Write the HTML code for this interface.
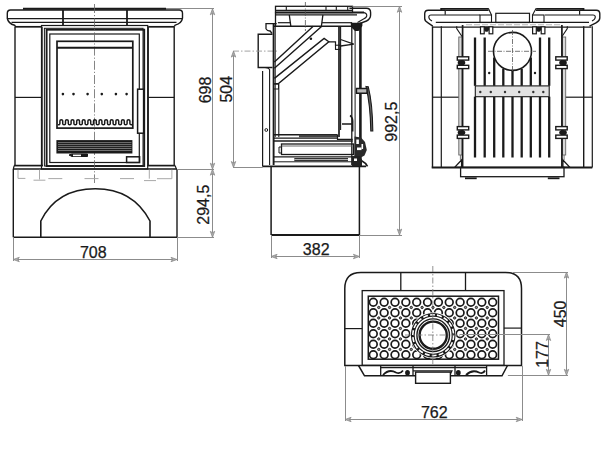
<!DOCTYPE html>
<html><head><meta charset="utf-8"><style>
html,body{margin:0;padding:0;background:#fff;width:607px;height:450px;overflow:hidden}
svg{display:block;font-family:"Liberation Sans",sans-serif}
</style></head><body>
<svg width="607" height="450" viewBox="0 0 607 450" stroke-linecap="butt">
<line x1="23" y1="8.8" x2="166" y2="8.8" stroke="#1a1a1a" stroke-width="2" />
<path d="M15.5,26.7 L14.6,25.2 Q8.3,23.6 7.3,18.5 V13.2 Q7.3,10 10.5,10 H179.3 Q182.5,10 182.5,13.2 V18.2 Q181.7,23.4 175.2,25.2 L174.2,26.7" stroke="#1a1a1a" stroke-width="1.4" fill="none" />
<line x1="7.2" y1="18.5" x2="182.5" y2="18.5" stroke="#1a1a1a" stroke-width="1.25" />
<line x1="11.5" y1="22.4" x2="176.5" y2="22.4" stroke="#1a1a1a" stroke-width="1.3" />
<line x1="63" y1="10" x2="63" y2="25.5" stroke="#1a1a1a" stroke-width="1.8" />
<line x1="127" y1="10" x2="127" y2="25.5" stroke="#1a1a1a" stroke-width="1.8" />
<line x1="15" y1="26.8" x2="42" y2="26.8" stroke="#1a1a1a" stroke-width="1.7" />
<line x1="15" y1="26.7" x2="15" y2="165.4" stroke="#1a1a1a" stroke-width="1.4" />
<line x1="42" y1="26.7" x2="42" y2="165.4" stroke="#1a1a1a" stroke-width="1.4" />
<line x1="15" y1="97.4" x2="42" y2="97.4" stroke="#1a1a1a" stroke-width="1.2" />
<line x1="14" y1="165.6" x2="43" y2="165.6" stroke="#1a1a1a" stroke-width="1.7" />
<line x1="148.2" y1="26.8" x2="174.2" y2="26.8" stroke="#1a1a1a" stroke-width="1.7" />
<line x1="148.2" y1="26.7" x2="148.2" y2="165.4" stroke="#1a1a1a" stroke-width="1.4" />
<line x1="174.2" y1="26.7" x2="174.2" y2="165.4" stroke="#1a1a1a" stroke-width="1.4" />
<line x1="148.2" y1="97.4" x2="174.2" y2="97.4" stroke="#1a1a1a" stroke-width="1.2" />
<line x1="147.2" y1="165.6" x2="175.2" y2="165.6" stroke="#1a1a1a" stroke-width="1.7" />
<path d="M14.2,165.6 L13.3,169 M175.2,165.6 L176.3,169" stroke="#1a1a1a" stroke-width="1.2" fill="none" />
<rect x="41.5" y="25.5" width="106.2" height="143.5" stroke="#1a1a1a" stroke-width="1.2" fill="none" />
<rect x="44.4" y="28.3" width="98.6" height="137.7" stroke="#1a1a1a" stroke-width="1.0" fill="none" />
<rect x="46.6" y="29.7" width="97.6" height="136.3" stroke="#1a1a1a" stroke-width="1.9" fill="none" />
<rect x="49.8" y="34" width="89.5" height="128.5" stroke="#1a1a1a" stroke-width="1.2" fill="none" />
<line x1="94.5" y1="4" x2="94.5" y2="183" stroke="#666" stroke-width="0.8" stroke-dasharray="9,2,1.2,2"/>
<rect x="57" y="41.3" width="75.8" height="86.8" stroke="#1a1a1a" stroke-width="1.7" fill="none" />
<line x1="57" y1="47.8" x2="132.8" y2="47.8" stroke="#1a1a1a" stroke-width="2" />
<circle cx="62.9" cy="94.1" r="1.3" fill="#1a1a1a"/>
<circle cx="73.5" cy="94.1" r="1.3" fill="#1a1a1a"/>
<circle cx="87.6" cy="94.1" r="1.3" fill="#1a1a1a"/>
<circle cx="101.8" cy="94.1" r="1.3" fill="#1a1a1a"/>
<circle cx="115.9" cy="94.1" r="1.3" fill="#1a1a1a"/>
<circle cx="126.6" cy="94.1" r="1.3" fill="#1a1a1a"/>
<clipPath id="gl"><rect x="57.8" y="110" width="74.2" height="17.5"/></clipPath>
<path d="M51.50,123.4 L54.30,123.4 L54.30,121.1 A1.400,1.400 0 0 1 57.10,121.1 L57.10,123.4 A1.400,1.400 0 0 0 59.90,123.4 L59.90,123.4 L59.90,121.1 A1.400,1.400 0 0 1 62.70,121.1 L62.70,123.4 A1.400,1.400 0 0 0 65.50,123.4 L65.50,123.4 L65.50,121.1 A1.400,1.400 0 0 1 68.30,121.1 L68.30,123.4 A1.400,1.400 0 0 0 71.10,123.4 L71.10,123.4 L71.10,121.1 A1.400,1.400 0 0 1 73.90,121.1 L73.90,123.4 A1.400,1.400 0 0 0 76.70,123.4 L76.70,123.4 L76.70,121.1 A1.400,1.400 0 0 1 79.50,121.1 L79.50,123.4 A1.400,1.400 0 0 0 82.30,123.4 L82.30,123.4 L82.30,121.1 A1.400,1.400 0 0 1 85.10,121.1 L85.10,123.4 A1.400,1.400 0 0 0 87.90,123.4 L87.90,123.4 L87.90,121.1 A1.400,1.400 0 0 1 90.70,121.1 L90.70,123.4 A1.400,1.400 0 0 0 93.50,123.4 L93.50,123.4 L93.50,121.1 A1.400,1.400 0 0 1 96.30,121.1 L96.30,123.4 A1.400,1.400 0 0 0 99.10,123.4 L99.10,123.4 L99.10,121.1 A1.400,1.400 0 0 1 101.90,121.1 L101.90,123.4 A1.400,1.400 0 0 0 104.70,123.4 L104.70,123.4 L104.70,121.1 A1.400,1.400 0 0 1 107.50,121.1 L107.50,123.4 A1.400,1.400 0 0 0 110.30,123.4 L110.30,123.4 L110.30,121.1 A1.400,1.400 0 0 1 113.10,121.1 L113.10,123.4 A1.400,1.400 0 0 0 115.90,123.4 L115.90,123.4 L115.90,121.1 A1.400,1.400 0 0 1 118.70,121.1 L118.70,123.4 A1.400,1.400 0 0 0 121.50,123.4 L121.50,123.4 L121.50,121.1 A1.400,1.400 0 0 1 124.30,121.1 L124.30,123.4 A1.400,1.400 0 0 0 127.10,123.4 L127.10,123.4 L127.10,121.1 A1.400,1.400 0 0 1 129.90,121.1 L129.90,123.4 A1.400,1.400 0 0 0 132.70,123.4 L132.70,123.4 L132.70,121.1 A1.400,1.400 0 0 1 135.50,121.1 L135.50,123.4 A1.400,1.400 0 0 0 138.30,123.4" stroke="#1a1a1a" stroke-width="1.5" fill="none" clip-path="url(#gl)"/>
<rect x="137.6" y="89.2" width="6" height="44" stroke="#1a1a1a" stroke-width="1.5" fill="#fff" />
<rect x="56.4" y="140.1" width="76" height="13.4" stroke="#1a1a1a" stroke-width="0" fill="#1a1a1a" />
<line x1="58" y1="142.6" x2="131.5" y2="142.6" stroke="#b0b0b0" stroke-width="0.6" />
<line x1="58" y1="144.6" x2="131.5" y2="144.6" stroke="#b0b0b0" stroke-width="0.6" />
<line x1="58" y1="146.6" x2="131.5" y2="146.6" stroke="#b0b0b0" stroke-width="0.6" />
<line x1="58" y1="148.5" x2="131.5" y2="148.5" stroke="#b0b0b0" stroke-width="0.6" />
<line x1="58" y1="150.5" x2="131.5" y2="150.5" stroke="#b0b0b0" stroke-width="0.6" />
<path d="M69,155 L72,154 L87.5,154 L87.5,156.5 L72,156.5 Z" stroke="#1a1a1a" stroke-width="1" fill="#1a1a1a" />
<rect x="73" y="154.6" width="8" height="1.6" fill="#fff"/>
<rect x="126.6" y="156.8" width="13" height="5.7" stroke="#1a1a1a" stroke-width="1.5" fill="none" />
<line x1="13.3" y1="169.1" x2="177" y2="169.1" stroke="#1a1a1a" stroke-width="1.5" />
<line x1="13.3" y1="169" x2="13.3" y2="237.3" stroke="#1a1a1a" stroke-width="1.4" />
<line x1="177" y1="169" x2="177" y2="237.3" stroke="#1a1a1a" stroke-width="1.4" />
<line x1="13.3" y1="237.3" x2="177" y2="237.3" stroke="#1a1a1a" stroke-width="1.6" />
<path d="M40.8,237.3 V221 C52,198 72,188.7 95.3,188.7 C118,188.7 138,198 150,221 V237.3" stroke="#1a1a1a" stroke-width="1.6" fill="none" />
<path d="M18,169.8 V178.4 H25.4" stroke="#a8a8a8" stroke-width="1" fill="none" />
<path d="M39.5,169.8 V179.5 M33.5,180.2 H45.4" stroke="#a8a8a8" stroke-width="1" fill="none" />
<line x1="48.3" y1="178.6" x2="62.3" y2="178.6" stroke="#a8a8a8" stroke-width="1" />
<line x1="84.5" y1="178.6" x2="98.5" y2="178.6" stroke="#a8a8a8" stroke-width="1" />
<line x1="120" y1="178.6" x2="134" y2="178.6" stroke="#a8a8a8" stroke-width="1" />
<path d="M149.3,169.8 V178.7 M144,180.6 H156" stroke="#a8a8a8" stroke-width="1" fill="none" />
<path d="M171.9,169.8 V178.7 H157" stroke="#a8a8a8" stroke-width="1" fill="none" />
<line x1="166" y1="8.5" x2="214" y2="8.5" stroke="#8c8c8c" stroke-width="1" />
<line x1="212.5" y1="8.6" x2="212.5" y2="237.3" stroke="#8c8c8c" stroke-width="1" />
<line x1="177" y1="169.5" x2="214" y2="169.5" stroke="#8c8c8c" stroke-width="1" />
<line x1="177" y1="237.5" x2="214" y2="237.5" stroke="#8c8c8c" stroke-width="1" />
<path d="M210.3,14.8 L212.5,8.8 L214.7,14.8 L212.5,13.3 Z" stroke="#8c8c8c" stroke-width="0.8" fill="#aaa" />
<path d="M210.3,163.2 L212.5,169.2 L214.7,163.2 L212.5,164.7 Z" stroke="#8c8c8c" stroke-width="0.8" fill="#aaa" />
<path d="M210.3,175.2 L212.5,169.2 L214.7,175.2 L212.5,173.7 Z" stroke="#8c8c8c" stroke-width="0.8" fill="#aaa" />
<path d="M210.3,231.3 L212.5,237.3 L214.7,231.3 L212.5,232.8 Z" stroke="#8c8c8c" stroke-width="0.8" fill="#aaa" />
<text x="0" y="0" transform="translate(205,90) rotate(-90)" text-anchor="middle" dominant-baseline="central" font-size="16" fill="#1a1a1a" stroke="#1a1a1a" stroke-width="0.25">698</text>
<text x="0" y="0" transform="translate(203,204.7) rotate(-90)" text-anchor="middle" dominant-baseline="central" font-size="16" fill="#1a1a1a" stroke="#1a1a1a" stroke-width="0.25">294,5</text>
<line x1="13.5" y1="237.3" x2="13.5" y2="261" stroke="#8c8c8c" stroke-width="1" />
<line x1="177.5" y1="237.3" x2="177.5" y2="261" stroke="#8c8c8c" stroke-width="1" />
<line x1="13.3" y1="259.5" x2="177" y2="259.5" stroke="#8c8c8c" stroke-width="1" />
<path d="M19.3,257.3 L13.3,259.5 L19.3,261.7 L17.8,259.5 Z" stroke="#8c8c8c" stroke-width="0.8" fill="#aaa" />
<path d="M171,257.3 L177,259.5 L171,261.7 L172.5,259.5 Z" stroke="#8c8c8c" stroke-width="0.8" fill="#aaa" />
<text x="93.3" y="252" text-anchor="middle" dominant-baseline="central" font-size="16" fill="#1a1a1a" stroke="#1a1a1a" stroke-width="0.25">708</text>

<rect x="275.5" y="6.3" width="77" height="6.2" stroke="#1a1a1a" stroke-width="1.3" fill="none" />
<line x1="275.5" y1="10.4" x2="352.5" y2="10.4" stroke="#1a1a1a" stroke-width="1.1" />
<line x1="286.3" y1="6.3" x2="286.3" y2="10.4" stroke="#1a1a1a" stroke-width="1.1" />
<line x1="326" y1="6.3" x2="326" y2="10.4" stroke="#1a1a1a" stroke-width="1.1" />
<line x1="336.3" y1="6.3" x2="336.3" y2="10.4" stroke="#1a1a1a" stroke-width="1.1" />
<line x1="347.7" y1="6.3" x2="347.7" y2="10.4" stroke="#1a1a1a" stroke-width="1.1" />
<line x1="275.5" y1="12.6" x2="364" y2="12.6" stroke="#1a1a1a" stroke-width="2" />
<path d="M349.4,8.3 H366.4 Q370.6,8.3 370.6,12.5 V15 Q370.6,19 366.5,21 L359.4,23.6" stroke="#1a1a1a" stroke-width="1.4" fill="none" />
<path d="M364,12.6 Q366.8,13.2 366.8,15.5 Q366.8,17.5 363.5,19 L357.5,22.5" stroke="#1a1a1a" stroke-width="1.1" fill="none" />
<line x1="275.5" y1="14.8" x2="357" y2="14.8" stroke="#1a1a1a" stroke-width="1.2" />
<line x1="273" y1="26.2" x2="358" y2="26.2" stroke="#1a1a1a" stroke-width="1.6" />
<line x1="275.5" y1="12.6" x2="275.5" y2="26.2" stroke="#1a1a1a" stroke-width="1.3" />
<path d="M289.3,14.8 L290.8,26.2 M322.9,14.8 L321.4,26.2" stroke="#1a1a1a" stroke-width="1.3" fill="none" />
<path d="M277.9,22.7 H290.3" stroke="#1a1a1a" stroke-width="1.2" fill="none" />
<path d="M322,22.7 H352" stroke="#1a1a1a" stroke-width="1.2" fill="none" />
<line x1="305.4" y1="2" x2="305.4" y2="31" stroke="#555" stroke-width="0.8" stroke-dasharray="5,1.5,1,1.5"/>
<path d="M266,29 V23.6 H276.7 M266,29 Q267.5,31.2 270.2,31 L272,33.5" stroke="#1a1a1a" stroke-width="1.3" fill="none" />
<path d="M272.5,34.2 H258.2 V67.5 H272.5" stroke="#1a1a1a" stroke-width="1.4" fill="none" />
<line x1="233" y1="51.1" x2="278" y2="51.1" stroke="#999" stroke-width="0.9" stroke-dasharray="6,2,1.5,2"/>
<line x1="262.6" y1="71" x2="262.6" y2="166.4" stroke="#1a1a1a" stroke-width="1.2" />
<path d="M265,67.5 Q268.5,67.5 269.6,69.5 V165" stroke="#1a1a1a" stroke-width="1.1" fill="none" />
<line x1="273.6" y1="23.6" x2="273.6" y2="165" stroke="#1a1a1a" stroke-width="1.9" />
<line x1="275.3" y1="26.2" x2="275.3" y2="137" stroke="#1a1a1a" stroke-width="0.9" />
<line x1="278.8" y1="84" x2="278.8" y2="137" stroke="#1a1a1a" stroke-width="1.1" />
<path d="M313.2,26.2 L274.4,62 M321.8,26.2 L274.4,68.2" stroke="#1a1a1a" stroke-width="1.4" fill="none" />
<path d="M274.4,78.4 L324.1,38.4 L328.8,41.8 L278.2,83.8 L274.4,83.8" stroke="#1a1a1a" stroke-width="1.4" fill="none" />
<path d="M328.8,41.8 H335.5 V45.7" stroke="#1a1a1a" stroke-width="1.2" fill="none" />
<circle cx="310.9" cy="38.7" r="1.3" fill="#1a1a1a"/>
<rect x="273.5" y="84" width="5" height="5" stroke="#1a1a1a" stroke-width="1.0" fill="none" />
<line x1="339" y1="26.2" x2="339" y2="137" stroke="#1a1a1a" stroke-width="1.7" />
<line x1="340.6" y1="26.2" x2="340.6" y2="130" stroke="#1a1a1a" stroke-width="1.1" />
<path d="M340.6,39.5 L353.8,44.1 L340.6,46" stroke="#1a1a1a" stroke-width="1.3" fill="none" />
<path d="M350.7,22.7 H362.4 V26 L358.5,31 H355 L351,27 Z" fill="#1a1a1a"/>
<rect x="335.5" y="45.2" width="5" height="4.2" stroke="#1a1a1a" stroke-width="1.1" fill="none" />
<line x1="351.8" y1="22.7" x2="351.8" y2="165" stroke="#1a1a1a" stroke-width="1.3" />
<line x1="355.1" y1="26" x2="355.1" y2="165" stroke="#1a1a1a" stroke-width="1.0" />
<line x1="360.4" y1="22.7" x2="360.4" y2="165" stroke="#1a1a1a" stroke-width="2.6" />
<path d="M342,124 H352.7 M350,115.5 Q352.5,117 352.7,121 V131.4" stroke="#1a1a1a" stroke-width="1.5" fill="none" />
<path d="M366,86.5 L368.3,86.8 Q372.6,104 372.8,131 L370.8,131 Q370.3,104 366,86.5 Z" stroke="#1a1a1a" stroke-width="1.1" fill="#666" />
<path d="M356.5,88.5 H367 V93.2 H356.5 Z" stroke="#1a1a1a" stroke-width="1.4" fill="#bbb" />
<line x1="273.6" y1="134.7" x2="337.5" y2="134.7" stroke="#1a1a1a" stroke-width="1.6" />
<rect x="299" y="134.7" width="38" height="2.6" stroke="#1a1a1a" stroke-width="0" fill="#444" />
<path d="M273.6,138.2 H337 M337.5,134.7 V139.3 H352.7" stroke="#1a1a1a" stroke-width="1.2" fill="none" />
<line x1="273.6" y1="141" x2="352.7" y2="141" stroke="#1a1a1a" stroke-width="1.4" />
<rect x="281.5" y="144" width="72" height="10.5" stroke="#1a1a1a" stroke-width="1.3" fill="none" />
<line x1="281.5" y1="146" x2="352" y2="146" stroke="#555" stroke-width="0.9" />
<path d="M281.5,147 H279 V153 H281.5" stroke="#1a1a1a" stroke-width="1.0" fill="none" />
<line x1="273.6" y1="156.8" x2="355" y2="156.8" stroke="#1a1a1a" stroke-width="1.2" />
<rect x="294.3" y="158" width="53.7" height="3.2" stroke="#1a1a1a" stroke-width="0" fill="#333" />
<line x1="294.3" y1="159.5" x2="348" y2="159.5" stroke="#fff" stroke-width="0.6" />
<line x1="273.6" y1="161.8" x2="360" y2="161.8" stroke="#1a1a1a" stroke-width="1.0" />
<line x1="262.6" y1="166.4" x2="366" y2="166.4" stroke="#1a1a1a" stroke-width="1.8" />
<path d="M354.5,136.5 L361,137.5 L365,142 L366.8,150 L364.5,155.5 L360,158 H354.5 Z" fill="#2a2a2a"/>
<rect x="356.3" y="139.5" width="2.6" height="4.5" stroke="#1a1a1a" stroke-width="0" fill="#fff" />
<rect x="357" y="147.5" width="4.5" height="2.6" stroke="#1a1a1a" stroke-width="0" fill="#fff" />
<rect x="361.5" y="144" width="1.6" height="5" stroke="#1a1a1a" stroke-width="0" fill="#fff" />
<path d="M358,158 L362,161 Q366,163 367.5,166.4 M352.7,163 H360" stroke="#1a1a1a" stroke-width="1.6" fill="none" />
<path d="M352,156 H360 L362,160 V166 H352 Z" fill="#222"/>
<rect x="354" y="158.5" width="3" height="2.5" stroke="#1a1a1a" stroke-width="0" fill="#fff" />
<circle cx="266.3" cy="130" r="1.4" fill="none" stroke="#1a1a1a" stroke-width="1"/>
<line x1="271.1" y1="166.4" x2="271.1" y2="235.1" stroke="#1a1a1a" stroke-width="1.5" />
<line x1="359.4" y1="166.4" x2="359.4" y2="235.1" stroke="#1a1a1a" stroke-width="1.5" />
<line x1="271.1" y1="235.1" x2="359.4" y2="235.1" stroke="#1a1a1a" stroke-width="2" />
<line x1="233" y1="167.5" x2="262.8" y2="167.5" stroke="#8c8c8c" stroke-width="1" />
<line x1="233.5" y1="51.1" x2="233.5" y2="167.2" stroke="#8c8c8c" stroke-width="1" />
<path d="M231.3,57.1 L233.5,51.1 L235.7,57.1 L233.5,55.6 Z" stroke="#8c8c8c" stroke-width="0.8" fill="#aaa" />
<path d="M231.3,161.5 L233.5,167.5 L235.7,161.5 L233.5,163.0 Z" stroke="#8c8c8c" stroke-width="0.8" fill="#aaa" />
<text x="0" y="0" transform="translate(226.5,89.2) rotate(-90)" text-anchor="middle" dominant-baseline="central" font-size="16" fill="#1a1a1a" stroke="#1a1a1a" stroke-width="0.25">504</text>
<line x1="352.5" y1="6.5" x2="402" y2="6.5" stroke="#8c8c8c" stroke-width="1" />
<line x1="359.4" y1="235.5" x2="402" y2="235.5" stroke="#8c8c8c" stroke-width="1" />
<line x1="399.5" y1="6.3" x2="399.5" y2="235.1" stroke="#8c8c8c" stroke-width="1" />
<path d="M397.3,12.3 L399.5,6.3 L401.7,12.3 L399.5,10.8 Z" stroke="#8c8c8c" stroke-width="0.8" fill="#aaa" />
<path d="M397.3,229.1 L399.5,235.1 L401.7,229.1 L399.5,230.6 Z" stroke="#8c8c8c" stroke-width="0.8" fill="#aaa" />
<text x="0" y="0" transform="translate(391.2,121.7) rotate(-90)" text-anchor="middle" dominant-baseline="central" font-size="16" fill="#1a1a1a" stroke="#1a1a1a" stroke-width="0.25">992,5</text>
<line x1="271.5" y1="235.1" x2="271.5" y2="258" stroke="#8c8c8c" stroke-width="1" />
<line x1="359.5" y1="235.1" x2="359.5" y2="258" stroke="#8c8c8c" stroke-width="1" />
<line x1="271.1" y1="256.5" x2="359.4" y2="256.5" stroke="#8c8c8c" stroke-width="1" />
<path d="M277.1,254.3 L271.1,256.5 L277.1,258.7 L275.6,256.5 Z" stroke="#8c8c8c" stroke-width="0.8" fill="#aaa" />
<path d="M353.4,254.3 L359.4,256.5 L353.4,258.7 L354.9,256.5 Z" stroke="#8c8c8c" stroke-width="0.8" fill="#aaa" />
<text x="316.2" y="249.6" text-anchor="middle" dominant-baseline="central" font-size="16" fill="#1a1a1a" stroke="#1a1a1a" stroke-width="0.25">382</text>
<path d="M441.2,10.3 V8.9 H488.3 M583.5,10.3 V8.9 H536.2" stroke="#1a1a1a" stroke-width="1.8" fill="none" />
<line x1="445.2" y1="10.3" x2="445.2" y2="14.8" stroke="#1a1a1a" stroke-width="1.2" />
<line x1="445.2" y1="10.4" x2="488.6" y2="10.4" stroke="#1a1a1a" stroke-width="1.1" />
<line x1="536" y1="10.4" x2="579.6" y2="10.4" stroke="#1a1a1a" stroke-width="1.1" />
<line x1="579.6" y1="10.3" x2="579.6" y2="14.8" stroke="#1a1a1a" stroke-width="1.2" />
<path d="M445.2,10.2 H428.2 Q424.7,10.2 424.7,13.8 V18.5 Q424.7,21 428,22.8 L432.8,26.1" stroke="#1a1a1a" stroke-width="1.4" fill="none" />
<path d="M579.6,10.2 H596.3 Q599.8,10.2 599.8,13.8 V18 Q599.8,20.8 596,22.8 L589.5,26.1" stroke="#1a1a1a" stroke-width="1.4" fill="none" />
<path d="M480,15 H431 Q428.8,15 428.8,17 Q428.8,19.5 432,21" stroke="#1a1a1a" stroke-width="1.1" fill="none" />
<path d="M545,15 H593 Q595.3,15 595.3,17 Q595.3,19.5 592,21" stroke="#1a1a1a" stroke-width="1.1" fill="none" />
<rect x="480" y="15" width="11.5" height="7.5" stroke="#1a1a1a" stroke-width="1.1" fill="none" />
<rect x="532.5" y="15" width="11.5" height="7.5" stroke="#1a1a1a" stroke-width="1.1" fill="none" />
<line x1="488.3" y1="8.3" x2="491.5" y2="15" stroke="#1a1a1a" stroke-width="1.1" />
<line x1="536.2" y1="8.3" x2="532.5" y2="15" stroke="#1a1a1a" stroke-width="1.1" />
<rect x="495.8" y="13.3" width="33.7" height="9.2" stroke="#1a1a1a" stroke-width="1.2" fill="none" />
<line x1="435.8" y1="22.3" x2="589" y2="22.3" stroke="#1a1a1a" stroke-width="1.3" />
<line x1="432.8" y1="27.1" x2="591.4" y2="27.1" stroke="#1a1a1a" stroke-width="1.4" />
<line x1="466" y1="24.75" x2="562" y2="24.75" stroke="#b8b8b8" stroke-width="1.0" stroke-dasharray="6,2"/>
<line x1="432.5" y1="26.3" x2="432.5" y2="167.5" stroke="#1a1a1a" stroke-width="1.4" />
<line x1="441.3" y1="26.3" x2="441.3" y2="167.5" stroke="#1a1a1a" stroke-width="1.2" />
<line x1="432.5" y1="97.2" x2="459.2" y2="97.2" stroke="#1a1a1a" stroke-width="1.2" />
<line x1="583.7" y1="26.3" x2="583.7" y2="167.5" stroke="#1a1a1a" stroke-width="1.4" />
<line x1="592.3" y1="26.3" x2="592.3" y2="167.5" stroke="#1a1a1a" stroke-width="1.2" />
<line x1="563.7" y1="97.2" x2="592.3" y2="97.2" stroke="#1a1a1a" stroke-width="1.2" />
<rect x="458.8" y="37" width="3.2" height="118" stroke="#666" stroke-width="0.9" fill="#d8d8d8" />
<line x1="460.4" y1="155" x2="460.4" y2="160" stroke="#666" stroke-width="0.9" />
<line x1="462.6" y1="25" x2="462.6" y2="167.5" stroke="#1a1a1a" stroke-width="1.7" />
<rect x="562.5" y="37" width="3.2" height="118" stroke="#666" stroke-width="0.9" fill="#d8d8d8" />
<line x1="564.1" y1="155" x2="564.1" y2="160" stroke="#666" stroke-width="0.9" />
<line x1="561.9" y1="25" x2="561.9" y2="167.5" stroke="#1a1a1a" stroke-width="1.7" />
<path d="M456.7,26.3 V28.5 L462,36.5 M567.3,26.3 V28.5 L562,36.5" stroke="#1a1a1a" stroke-width="1.1" fill="none" />
<path d="M454.6,167.4 L461.6,160 V167.4 Z M569.9,167.4 L562.9,160 V167.4 Z" stroke="#1a1a1a" stroke-width="1.3" fill="none" />
<rect x="457.3" y="56.800000000000004" width="11.4" height="3.3" stroke="#1a1a1a" stroke-width="1.4" fill="#fff" />
<rect x="457.3" y="65.3" width="11.4" height="3.3" stroke="#1a1a1a" stroke-width="1.4" fill="#fff" />
<ellipse cx="461.5" cy="62.7" rx="3.8" ry="2.6" fill="#1a1a1a"/>
<rect x="457.3" y="126.6" width="11.4" height="3.3" stroke="#1a1a1a" stroke-width="1.4" fill="#fff" />
<rect x="457.3" y="135.1" width="11.4" height="3.3" stroke="#1a1a1a" stroke-width="1.4" fill="#fff" />
<ellipse cx="461.5" cy="132.5" rx="3.8" ry="2.6" fill="#1a1a1a"/>
<rect x="555.8" y="56.800000000000004" width="11.4" height="3.3" stroke="#1a1a1a" stroke-width="1.4" fill="#fff" />
<rect x="555.8" y="65.3" width="11.4" height="3.3" stroke="#1a1a1a" stroke-width="1.4" fill="#fff" />
<ellipse cx="563.0" cy="62.7" rx="3.8" ry="2.6" fill="#1a1a1a"/>
<rect x="555.8" y="126.6" width="11.4" height="3.3" stroke="#1a1a1a" stroke-width="1.4" fill="#fff" />
<rect x="555.8" y="135.1" width="11.4" height="3.3" stroke="#1a1a1a" stroke-width="1.4" fill="#fff" />
<ellipse cx="563.0" cy="132.5" rx="3.8" ry="2.6" fill="#1a1a1a"/>
<rect x="480.5" y="26.8" width="3.7" height="7" stroke="#1a1a1a" stroke-width="1.2" fill="#fff" />
<rect x="489.1" y="26.8" width="3.7" height="7" stroke="#1a1a1a" stroke-width="1.2" fill="#fff" />
<path d="M484.2,26.5 H489.1 V30 L487.5,31.8 H485.5 L484.2,30 Z" fill="#1a1a1a"/>
<rect x="532.6" y="26.8" width="3.7" height="7" stroke="#1a1a1a" stroke-width="1.2" fill="#fff" />
<rect x="541.2" y="26.8" width="3.7" height="7" stroke="#1a1a1a" stroke-width="1.2" fill="#fff" />
<path d="M536.3000000000001,26.5 H541.2 V30 L539.6,31.8 H537.6 L536.3000000000001,30 Z" fill="#1a1a1a"/>
<line x1="475" y1="37.5" x2="475" y2="85.8" stroke="#1a1a1a" stroke-width="2.3" />
<line x1="475" y1="96.7" x2="475" y2="157.5" stroke="#1a1a1a" stroke-width="2.3" />
<line x1="484.7" y1="37.5" x2="484.7" y2="85.8" stroke="#1a1a1a" stroke-width="2.3" />
<line x1="484.7" y1="96.7" x2="484.7" y2="157.5" stroke="#1a1a1a" stroke-width="2.3" />
<line x1="494.2" y1="57.5" x2="494.2" y2="85.8" stroke="#1a1a1a" stroke-width="2.3" />
<line x1="494.2" y1="96.7" x2="494.2" y2="157.5" stroke="#1a1a1a" stroke-width="2.3" />
<line x1="503.3" y1="68.7" x2="503.3" y2="85.8" stroke="#1a1a1a" stroke-width="2.3" />
<line x1="503.3" y1="96.7" x2="503.3" y2="157.5" stroke="#1a1a1a" stroke-width="2.3" />
<line x1="512.5" y1="70.5" x2="512.5" y2="85.8" stroke="#1a1a1a" stroke-width="2.3" />
<line x1="512.5" y1="96.7" x2="512.5" y2="157.5" stroke="#1a1a1a" stroke-width="2.3" />
<line x1="521.7" y1="68.7" x2="521.7" y2="85.8" stroke="#1a1a1a" stroke-width="2.3" />
<line x1="521.7" y1="96.7" x2="521.7" y2="157.5" stroke="#1a1a1a" stroke-width="2.3" />
<line x1="530.8" y1="57.5" x2="530.8" y2="85.8" stroke="#1a1a1a" stroke-width="2.3" />
<line x1="530.8" y1="96.7" x2="530.8" y2="157.5" stroke="#1a1a1a" stroke-width="2.3" />
<line x1="540" y1="37.5" x2="540" y2="85.8" stroke="#1a1a1a" stroke-width="2.3" />
<line x1="540" y1="96.7" x2="540" y2="157.5" stroke="#1a1a1a" stroke-width="2.3" />
<line x1="549.2" y1="37.5" x2="549.2" y2="85.8" stroke="#1a1a1a" stroke-width="2.3" />
<line x1="549.2" y1="96.7" x2="549.2" y2="157.5" stroke="#1a1a1a" stroke-width="2.3" />
<circle cx="512.5" cy="51.4" r="19" stroke="#1a1a1a" stroke-width="1.6" fill="#fff"/>
<line x1="488" y1="51.3" x2="536" y2="51.3" stroke="#555" stroke-width="0.8" stroke-dasharray="5,1.5,1,1.5"/>
<line x1="512.5" y1="30" x2="512.5" y2="72" stroke="#555" stroke-width="0.8" stroke-dasharray="5,1.5,1,1.5"/>
<circle cx="489.2" cy="73" r="1.2" fill="#1a1a1a"/>
<circle cx="535" cy="73" r="1.2" fill="#1a1a1a"/>
<rect x="475.3" y="85.9" width="73.9" height="10.8" stroke="#1a1a1a" stroke-width="1.1" fill="#e2e2e2" />
<circle cx="480.3" cy="92" r="1.2" fill="#333"/>
<circle cx="490.8" cy="92" r="1.2" fill="#333"/>
<circle cx="505" cy="92" r="1.2" fill="#333"/>
<circle cx="519.2" cy="92" r="1.2" fill="#333"/>
<circle cx="533.3" cy="92" r="1.2" fill="#333"/>
<circle cx="543.3" cy="92" r="1.2" fill="#333"/>
<line x1="431.7" y1="167.5" x2="592.3" y2="167.5" stroke="#1a1a1a" stroke-width="1.8" />
<rect x="460.6" y="167.4" width="103.4" height="9.3" stroke="#1a1a1a" stroke-width="1.3" fill="none" />
<line x1="465" y1="178.3" x2="476.7" y2="178.3" stroke="#1a1a1a" stroke-width="1.8" />
<line x1="547.8" y1="178.3" x2="559.5" y2="178.3" stroke="#1a1a1a" stroke-width="1.8" />
<path d="M344.8,365.4 V288.5 Q344.8,272.4 360.8,272.4 H505.5 Q521.5,272.4 521.5,288.5 V365.4 Z" stroke="#1a1a1a" stroke-width="1.5" fill="none" />
<line x1="400.8" y1="272.5" x2="400.8" y2="290.8" stroke="#1a1a1a" stroke-width="1.3" />
<line x1="465.5" y1="272.5" x2="465.5" y2="290.8" stroke="#1a1a1a" stroke-width="1.3" />
<rect x="362.2" y="290.6" width="141.8" height="74.8" stroke="#1a1a1a" stroke-width="1.3" fill="none" />
<line x1="344.8" y1="328.6" x2="362.2" y2="328.6" stroke="#1a1a1a" stroke-width="1.2" />
<line x1="503.9" y1="328.1" x2="521.5" y2="328.1" stroke="#1a1a1a" stroke-width="1.2" />
<rect x="368.3" y="296.2" width="130.2" height="63" stroke="#1a1a1a" stroke-width="1.5" fill="none" />
<circle cx="373.30" cy="302.20" r="3.85" stroke="#1a1a1a" stroke-width="1.7" fill="#fff"/>
<circle cx="373.30" cy="312.70" r="3.85" stroke="#1a1a1a" stroke-width="1.7" fill="#fff"/>
<circle cx="373.30" cy="323.20" r="3.85" stroke="#1a1a1a" stroke-width="1.7" fill="#fff"/>
<circle cx="373.30" cy="333.70" r="3.85" stroke="#1a1a1a" stroke-width="1.7" fill="#fff"/>
<circle cx="373.30" cy="344.20" r="3.85" stroke="#1a1a1a" stroke-width="1.7" fill="#fff"/>
<circle cx="373.30" cy="354.70" r="3.85" stroke="#1a1a1a" stroke-width="1.7" fill="#fff"/>
<circle cx="384.15" cy="302.20" r="3.85" stroke="#1a1a1a" stroke-width="1.7" fill="#fff"/>
<circle cx="384.15" cy="312.70" r="3.85" stroke="#1a1a1a" stroke-width="1.7" fill="#fff"/>
<circle cx="384.15" cy="323.20" r="3.85" stroke="#1a1a1a" stroke-width="1.7" fill="#fff"/>
<circle cx="384.15" cy="333.70" r="3.85" stroke="#1a1a1a" stroke-width="1.7" fill="#fff"/>
<circle cx="384.15" cy="344.20" r="3.85" stroke="#1a1a1a" stroke-width="1.7" fill="#fff"/>
<circle cx="384.15" cy="354.70" r="3.85" stroke="#1a1a1a" stroke-width="1.7" fill="#fff"/>
<circle cx="395.00" cy="302.20" r="3.85" stroke="#1a1a1a" stroke-width="1.7" fill="#fff"/>
<circle cx="395.00" cy="312.70" r="3.85" stroke="#1a1a1a" stroke-width="1.7" fill="#fff"/>
<circle cx="395.00" cy="323.20" r="3.85" stroke="#1a1a1a" stroke-width="1.7" fill="#fff"/>
<circle cx="395.00" cy="333.70" r="3.85" stroke="#1a1a1a" stroke-width="1.7" fill="#fff"/>
<circle cx="395.00" cy="344.20" r="3.85" stroke="#1a1a1a" stroke-width="1.7" fill="#fff"/>
<circle cx="395.00" cy="354.70" r="3.85" stroke="#1a1a1a" stroke-width="1.7" fill="#fff"/>
<circle cx="405.85" cy="302.20" r="3.85" stroke="#1a1a1a" stroke-width="1.7" fill="#fff"/>
<circle cx="405.85" cy="312.70" r="3.85" stroke="#1a1a1a" stroke-width="1.7" fill="#fff"/>
<circle cx="405.85" cy="323.20" r="3.85" stroke="#1a1a1a" stroke-width="1.7" fill="#fff"/>
<circle cx="405.85" cy="333.70" r="3.85" stroke="#1a1a1a" stroke-width="1.7" fill="#fff"/>
<circle cx="405.85" cy="344.20" r="3.85" stroke="#1a1a1a" stroke-width="1.7" fill="#fff"/>
<circle cx="405.85" cy="354.70" r="3.85" stroke="#1a1a1a" stroke-width="1.7" fill="#fff"/>
<circle cx="416.70" cy="302.20" r="3.85" stroke="#1a1a1a" stroke-width="1.7" fill="#fff"/>
<circle cx="416.70" cy="312.70" r="3.85" stroke="#1a1a1a" stroke-width="1.7" fill="#fff"/>
<circle cx="416.70" cy="323.20" r="3.85" stroke="#1a1a1a" stroke-width="1.7" fill="#fff"/>
<circle cx="416.70" cy="333.70" r="3.85" stroke="#1a1a1a" stroke-width="1.7" fill="#fff"/>
<circle cx="416.70" cy="344.20" r="3.85" stroke="#1a1a1a" stroke-width="1.7" fill="#fff"/>
<circle cx="416.70" cy="354.70" r="3.85" stroke="#1a1a1a" stroke-width="1.7" fill="#fff"/>
<circle cx="427.55" cy="302.20" r="3.85" stroke="#1a1a1a" stroke-width="1.7" fill="#fff"/>
<circle cx="427.55" cy="312.70" r="3.85" stroke="#1a1a1a" stroke-width="1.7" fill="#fff"/>
<circle cx="427.55" cy="323.20" r="3.85" stroke="#1a1a1a" stroke-width="1.7" fill="#fff"/>
<circle cx="427.55" cy="333.70" r="3.85" stroke="#1a1a1a" stroke-width="1.7" fill="#fff"/>
<circle cx="427.55" cy="344.20" r="3.85" stroke="#1a1a1a" stroke-width="1.7" fill="#fff"/>
<circle cx="427.55" cy="354.70" r="3.85" stroke="#1a1a1a" stroke-width="1.7" fill="#fff"/>
<circle cx="438.40" cy="302.20" r="3.85" stroke="#1a1a1a" stroke-width="1.7" fill="#fff"/>
<circle cx="438.40" cy="312.70" r="3.85" stroke="#1a1a1a" stroke-width="1.7" fill="#fff"/>
<circle cx="438.40" cy="323.20" r="3.85" stroke="#1a1a1a" stroke-width="1.7" fill="#fff"/>
<circle cx="438.40" cy="333.70" r="3.85" stroke="#1a1a1a" stroke-width="1.7" fill="#fff"/>
<circle cx="438.40" cy="344.20" r="3.85" stroke="#1a1a1a" stroke-width="1.7" fill="#fff"/>
<circle cx="438.40" cy="354.70" r="3.85" stroke="#1a1a1a" stroke-width="1.7" fill="#fff"/>
<circle cx="449.25" cy="302.20" r="3.85" stroke="#1a1a1a" stroke-width="1.7" fill="#fff"/>
<circle cx="449.25" cy="312.70" r="3.85" stroke="#1a1a1a" stroke-width="1.7" fill="#fff"/>
<circle cx="449.25" cy="323.20" r="3.85" stroke="#1a1a1a" stroke-width="1.7" fill="#fff"/>
<circle cx="449.25" cy="333.70" r="3.85" stroke="#1a1a1a" stroke-width="1.7" fill="#fff"/>
<circle cx="449.25" cy="344.20" r="3.85" stroke="#1a1a1a" stroke-width="1.7" fill="#fff"/>
<circle cx="449.25" cy="354.70" r="3.85" stroke="#1a1a1a" stroke-width="1.7" fill="#fff"/>
<circle cx="460.10" cy="302.20" r="3.85" stroke="#1a1a1a" stroke-width="1.7" fill="#fff"/>
<circle cx="460.10" cy="312.70" r="3.85" stroke="#1a1a1a" stroke-width="1.7" fill="#fff"/>
<circle cx="460.10" cy="323.20" r="3.85" stroke="#1a1a1a" stroke-width="1.7" fill="#fff"/>
<circle cx="460.10" cy="333.70" r="3.85" stroke="#1a1a1a" stroke-width="1.7" fill="#fff"/>
<circle cx="460.10" cy="344.20" r="3.85" stroke="#1a1a1a" stroke-width="1.7" fill="#fff"/>
<circle cx="460.10" cy="354.70" r="3.85" stroke="#1a1a1a" stroke-width="1.7" fill="#fff"/>
<circle cx="470.95" cy="302.20" r="3.85" stroke="#1a1a1a" stroke-width="1.7" fill="#fff"/>
<circle cx="470.95" cy="312.70" r="3.85" stroke="#1a1a1a" stroke-width="1.7" fill="#fff"/>
<circle cx="470.95" cy="323.20" r="3.85" stroke="#1a1a1a" stroke-width="1.7" fill="#fff"/>
<circle cx="470.95" cy="333.70" r="3.85" stroke="#1a1a1a" stroke-width="1.7" fill="#fff"/>
<circle cx="470.95" cy="344.20" r="3.85" stroke="#1a1a1a" stroke-width="1.7" fill="#fff"/>
<circle cx="470.95" cy="354.70" r="3.85" stroke="#1a1a1a" stroke-width="1.7" fill="#fff"/>
<circle cx="481.80" cy="302.20" r="3.85" stroke="#1a1a1a" stroke-width="1.7" fill="#fff"/>
<circle cx="481.80" cy="312.70" r="3.85" stroke="#1a1a1a" stroke-width="1.7" fill="#fff"/>
<circle cx="481.80" cy="323.20" r="3.85" stroke="#1a1a1a" stroke-width="1.7" fill="#fff"/>
<circle cx="481.80" cy="333.70" r="3.85" stroke="#1a1a1a" stroke-width="1.7" fill="#fff"/>
<circle cx="481.80" cy="344.20" r="3.85" stroke="#1a1a1a" stroke-width="1.7" fill="#fff"/>
<circle cx="481.80" cy="354.70" r="3.85" stroke="#1a1a1a" stroke-width="1.7" fill="#fff"/>
<circle cx="492.65" cy="302.20" r="3.85" stroke="#1a1a1a" stroke-width="1.7" fill="#fff"/>
<circle cx="492.65" cy="312.70" r="3.85" stroke="#1a1a1a" stroke-width="1.7" fill="#fff"/>
<circle cx="492.65" cy="323.20" r="3.85" stroke="#1a1a1a" stroke-width="1.7" fill="#fff"/>
<circle cx="492.65" cy="333.70" r="3.85" stroke="#1a1a1a" stroke-width="1.7" fill="#fff"/>
<circle cx="492.65" cy="344.20" r="3.85" stroke="#1a1a1a" stroke-width="1.7" fill="#fff"/>
<circle cx="492.65" cy="354.70" r="3.85" stroke="#1a1a1a" stroke-width="1.7" fill="#fff"/>
<circle cx="378.73" cy="307.45" r="1.15" stroke="#222" stroke-width="1.0" fill="#888"/>
<circle cx="378.73" cy="317.95" r="1.15" stroke="#222" stroke-width="1.0" fill="#888"/>
<circle cx="378.73" cy="328.45" r="1.15" stroke="#222" stroke-width="1.0" fill="#888"/>
<circle cx="378.73" cy="338.95" r="1.15" stroke="#222" stroke-width="1.0" fill="#888"/>
<circle cx="378.73" cy="349.45" r="1.15" stroke="#222" stroke-width="1.0" fill="#888"/>
<circle cx="389.57" cy="307.45" r="1.15" stroke="#222" stroke-width="1.0" fill="#888"/>
<circle cx="389.57" cy="317.95" r="1.15" stroke="#222" stroke-width="1.0" fill="#888"/>
<circle cx="389.57" cy="328.45" r="1.15" stroke="#222" stroke-width="1.0" fill="#888"/>
<circle cx="389.57" cy="338.95" r="1.15" stroke="#222" stroke-width="1.0" fill="#888"/>
<circle cx="389.57" cy="349.45" r="1.15" stroke="#222" stroke-width="1.0" fill="#888"/>
<circle cx="400.43" cy="307.45" r="1.15" stroke="#222" stroke-width="1.0" fill="#888"/>
<circle cx="400.43" cy="317.95" r="1.15" stroke="#222" stroke-width="1.0" fill="#888"/>
<circle cx="400.43" cy="328.45" r="1.15" stroke="#222" stroke-width="1.0" fill="#888"/>
<circle cx="400.43" cy="338.95" r="1.15" stroke="#222" stroke-width="1.0" fill="#888"/>
<circle cx="400.43" cy="349.45" r="1.15" stroke="#222" stroke-width="1.0" fill="#888"/>
<circle cx="411.28" cy="307.45" r="1.15" stroke="#222" stroke-width="1.0" fill="#888"/>
<circle cx="411.28" cy="317.95" r="1.15" stroke="#222" stroke-width="1.0" fill="#888"/>
<circle cx="411.28" cy="349.45" r="1.15" stroke="#222" stroke-width="1.0" fill="#888"/>
<circle cx="422.12" cy="307.45" r="1.15" stroke="#222" stroke-width="1.0" fill="#888"/>
<circle cx="432.98" cy="307.45" r="1.15" stroke="#222" stroke-width="1.0" fill="#888"/>
<circle cx="443.82" cy="307.45" r="1.15" stroke="#222" stroke-width="1.0" fill="#888"/>
<circle cx="454.68" cy="307.45" r="1.15" stroke="#222" stroke-width="1.0" fill="#888"/>
<circle cx="454.68" cy="317.95" r="1.15" stroke="#222" stroke-width="1.0" fill="#888"/>
<circle cx="454.68" cy="349.45" r="1.15" stroke="#222" stroke-width="1.0" fill="#888"/>
<circle cx="465.52" cy="307.45" r="1.15" stroke="#222" stroke-width="1.0" fill="#888"/>
<circle cx="465.52" cy="317.95" r="1.15" stroke="#222" stroke-width="1.0" fill="#888"/>
<circle cx="465.52" cy="328.45" r="1.15" stroke="#222" stroke-width="1.0" fill="#888"/>
<circle cx="465.52" cy="338.95" r="1.15" stroke="#222" stroke-width="1.0" fill="#888"/>
<circle cx="465.52" cy="349.45" r="1.15" stroke="#222" stroke-width="1.0" fill="#888"/>
<circle cx="476.38" cy="307.45" r="1.15" stroke="#222" stroke-width="1.0" fill="#888"/>
<circle cx="476.38" cy="317.95" r="1.15" stroke="#222" stroke-width="1.0" fill="#888"/>
<circle cx="476.38" cy="328.45" r="1.15" stroke="#222" stroke-width="1.0" fill="#888"/>
<circle cx="476.38" cy="338.95" r="1.15" stroke="#222" stroke-width="1.0" fill="#888"/>
<circle cx="476.38" cy="349.45" r="1.15" stroke="#222" stroke-width="1.0" fill="#888"/>
<circle cx="487.23" cy="307.45" r="1.15" stroke="#222" stroke-width="1.0" fill="#888"/>
<circle cx="487.23" cy="317.95" r="1.15" stroke="#222" stroke-width="1.0" fill="#888"/>
<circle cx="487.23" cy="328.45" r="1.15" stroke="#222" stroke-width="1.0" fill="#888"/>
<circle cx="487.23" cy="338.95" r="1.15" stroke="#222" stroke-width="1.0" fill="#888"/>
<circle cx="487.23" cy="349.45" r="1.15" stroke="#222" stroke-width="1.0" fill="#888"/>
<circle cx="433.2" cy="335.2" r="23" fill="#fff"/>
<circle cx="433.2" cy="335.2" r="20.4" stroke="#1a1a1a" stroke-width="3.8" fill="none"/>
<circle cx="433.2" cy="335.2" r="20.4" stroke="#fff" stroke-width="1.6" fill="none" stroke-dasharray="4.9,2.2"/>
<circle cx="433.2" cy="335.2" r="16.3" stroke="#1a1a1a" stroke-width="1.4" fill="none"/>
<circle cx="433.2" cy="335.2" r="13.6" stroke="#1a1a1a" stroke-width="2.4" fill="none"/>
<line x1="432.8" y1="266" x2="432.8" y2="366" stroke="#777" stroke-width="0.8" stroke-dasharray="6,2,1.5,2"/>
<line x1="405" y1="335" x2="460" y2="335" stroke="#777" stroke-width="0.8" stroke-dasharray="6,2,1.5,2"/>
<line x1="460" y1="334.5" x2="550" y2="334.5" stroke="#8c8c8c" stroke-width="1" />
<path d="M358.5,365.5 L364.5,375.8 H502 L507.5,365.5" stroke="#1a1a1a" stroke-width="1.5" fill="none" />
<path d="M380.7,366 V376.1 M413,366 V376.1 M455,366 V376.1 M486.6,366 V376.1" stroke="#1a1a1a" stroke-width="1.3" fill="none" />
<line x1="380.7" y1="367.6" x2="486.6" y2="367.6" stroke="#1a1a1a" stroke-width="1.1" />
<path d="M413,370.8 H436 M436,370.8 H452 L450.4,374" stroke="#1a1a1a" stroke-width="1.2" fill="none" />
<path d="M383,375 Q389,368.5 396,372.5 Q400,374.5 403,370.5 M466,375 Q472,369 479,372.5 Q483,374.5 485,370.5" stroke="#1a1a1a" stroke-width="1.8" fill="none" />
<ellipse cx="407.5" cy="372.8" rx="2.4" ry="2.8" fill="#1a1a1a"/>
<ellipse cx="458.3" cy="372.8" rx="2.4" ry="2.8" fill="#1a1a1a"/>
<rect x="415.6" y="372.1" width="34.8" height="11.2" stroke="#1a1a1a" stroke-width="1.4" fill="#fff" />
<line x1="513" y1="272.5" x2="568" y2="272.5" stroke="#8c8c8c" stroke-width="1" />
<line x1="507.9" y1="375.5" x2="568" y2="375.5" stroke="#8c8c8c" stroke-width="1" />
<line x1="566.5" y1="272.1" x2="566.5" y2="375.3" stroke="#8c8c8c" stroke-width="1" />
<path d="M564.3,278.1 L566.5,272.1 L568.7,278.1 L566.5,276.6 Z" stroke="#8c8c8c" stroke-width="0.8" fill="#aaa" />
<path d="M564.3,369.3 L566.5,375.3 L568.7,369.3 L566.5,370.8 Z" stroke="#8c8c8c" stroke-width="0.8" fill="#aaa" />
<text x="0" y="0" transform="translate(560,313.9) rotate(-90)" text-anchor="middle" dominant-baseline="central" font-size="16" fill="#1a1a1a" stroke="#1a1a1a" stroke-width="0.25">450</text>
<line x1="548.5" y1="334.5" x2="548.5" y2="375.3" stroke="#8c8c8c" stroke-width="1" />
<path d="M546.3,340.5 L548.5,334.5 L550.7,340.5 L548.5,339.0 Z" stroke="#8c8c8c" stroke-width="0.8" fill="#aaa" />
<path d="M546.3,369.3 L548.5,375.3 L550.7,369.3 L548.5,370.8 Z" stroke="#8c8c8c" stroke-width="0.8" fill="#aaa" />
<text x="0" y="0" transform="translate(542.2,354.5) rotate(-90)" text-anchor="middle" dominant-baseline="central" font-size="16" fill="#1a1a1a" stroke="#1a1a1a" stroke-width="0.25">177</text>
<line x1="345.5" y1="366" x2="345.5" y2="421" stroke="#8c8c8c" stroke-width="1" />
<line x1="522.5" y1="366" x2="522.5" y2="421" stroke="#8c8c8c" stroke-width="1" />
<line x1="345.1" y1="419.5" x2="522.2" y2="419.5" stroke="#8c8c8c" stroke-width="1" />
<path d="M351.1,417.3 L345.1,419.5 L351.1,421.7 L349.6,419.5 Z" stroke="#8c8c8c" stroke-width="0.8" fill="#aaa" />
<path d="M516.2,417.3 L522.2,419.5 L516.2,421.7 L517.7,419.5 Z" stroke="#8c8c8c" stroke-width="0.8" fill="#aaa" />
<text x="434.3" y="412" text-anchor="middle" dominant-baseline="central" font-size="16" fill="#1a1a1a" stroke="#1a1a1a" stroke-width="0.25">762</text>
</svg>
</body></html>
